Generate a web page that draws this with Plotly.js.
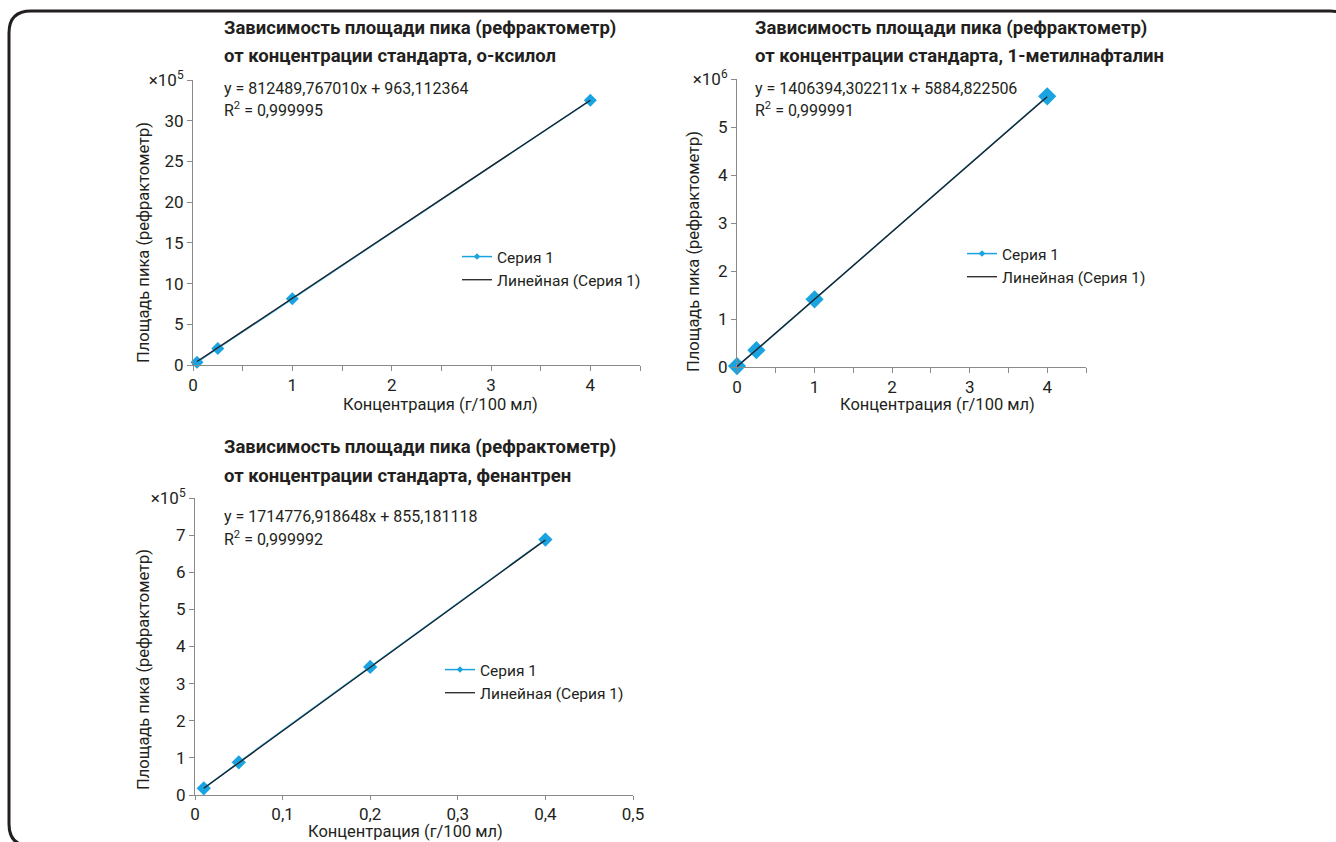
<!DOCTYPE html>
<html>
<head>
<meta charset="utf-8">
<script src="https://cdn.plot.ly/plotly-3.0.1.min.js"></script>
<style>
html,body{margin:0;padding:0;background:#fff;}
#chart{width:1336px;height:842px;}
</style>
</head>
<body>
<div id="chart"></div>
<script>
// ---- Data (peak areas in units of the axis multiplier) ----
const seriesName = "Серия 1";
const trendName = "Линейная (Серия 1)";
const yTitle = "Площадь пика (рефрактометр)";
const xTitle = "Концентрация (г/100 мл)";

// o-xylene (×10^5)
const xyleneConc = [0.04, 0.25, 1, 4];
const xylenePeak = [0.35, 2.04, 8.13, 32.5];
const xyleneTrendConc = [0.04, 4];
const xyleneTrendPeak = [0.42, 32.51];
const xyleneTitle = ["Зависимость площади пика (рефрактометр)", "от концентрации стандарта, о-ксилол"];
const xyleneEq = "y = 812489,767010x + 963,112364";
const xyleneR2 = "R<sup>2</sup> = 0,999995";
const xyleneXTicks = [0, 0.5, 1, 1.5, 2, 2.5, 3, 3.5, 4, 4.5];
const xyleneXLabels = ["0", "", "1", "", "2", "", "3", "", "4", ""];
const xyleneYTicks = [0, 5, 10, 15, 20, 25, 30, 35];
const xyleneYLabels = ["0", "5", "10", "15", "20", "25", "30", "×10<sup>5</sup>"];

// 1-methylnaphthalene (×10^6)
const mnConc = [0, 0.25, 1, 4];
const mnPeak = [0.02, 0.35, 1.41, 5.64];
const mnTrendConc = [0, 4];
const mnTrendPeak = [0.006, 5.63];
const mnTitle = ["Зависимость площади пика (рефрактометр)", "от концентрации стандарта, 1-метилнафталин"];
const mnEq = "y = 1406394,302211x + 5884,822506";
const mnR2 = "R<sup>2</sup> = 0,999991";
const mnXTicks = [0, 0.5, 1, 1.5, 2, 2.5, 3, 3.5, 4, 4.5];
const mnXLabels = ["0", "", "1", "", "2", "", "3", "", "4", ""];
const mnYTicks = [0, 1, 2, 3, 4, 5, 6];
const mnYLabels = ["0", "1", "2", "3", "4", "5", "×10<sup>6</sup>"];

// phenanthrene (×10^5)
const phenConc = [0.01, 0.05, 0.2, 0.4];
const phenPeak = [0.18, 0.88, 3.45, 6.88];
const phenTrendConc = [0.01, 0.4];
const phenTrendPeak = [0.18, 6.87];
const phenTitle = ["Зависимость площади пика (рефрактометр)", "от концентрации стандарта, фенантрен"];
const phenEq = "y = 1714776,918648x + 855,181118";
const phenR2 = "R<sup>2</sup> = 0,999992";
const phenXTicks = [0, 0.1, 0.2, 0.3, 0.4, 0.5];
const phenXLabels = ["0", "0,1", "0,2", "0,3", "0,4", "0,5"];
const phenYTicks = [0, 1, 2, 3, 4, 5, 6, 7, 8];
const phenYLabels = ["0", "1", "2", "3", "4", "5", "6", "7", "×10<sup>5</sup>"];

// ---- Styling ----
const W = 1336, H = 842;
const FONT = "Roboto, 'Liberation Sans', sans-serif";
const BLUE = "#19a3e0";
const DARK = "#231f20";
const AXIS = "#8a8a8a";
const px = v => v / W;
const py = v => 1 - v / H;

function seriesTraces(idx, conc, peak, tConc, tPeak, msize, legendId) {
  const xa = idx === 1 ? "x" : "x" + idx;
  const ya = idx === 1 ? "y" : "y" + idx;
  return [
    {x: [null], y: [null], xaxis: xa, yaxis: ya, mode: "lines+markers", name: seriesName,
     line: {color: BLUE, width: 1.5}, marker: {symbol: "diamond", size: 5, color: BLUE},
     legend: legendId, showlegend: true, hoverinfo: "skip"},
    {x: conc, y: peak, xaxis: xa, yaxis: ya, mode: "lines+markers", name: seriesName,
     line: {color: BLUE, width: 1.5}, marker: {symbol: "diamond", size: msize, color: BLUE},
     showlegend: false, legend: legendId, cliponaxis: false},
    {x: tConc, y: tPeak, xaxis: xa, yaxis: ya, mode: "lines", name: trendName,
     line: {color: DARK, width: 1.3}, legend: legendId, showlegend: true, cliponaxis: false}
  ];
}

const data = [
  ...seriesTraces(1, xyleneConc, xylenePeak, xyleneTrendConc, xyleneTrendPeak, 10, "legend"),
  ...seriesTraces(2, mnConc, mnPeak, mnTrendConc, mnTrendPeak, 14, "legend2"),
  ...seriesTraces(3, phenConc, phenPeak, phenTrendConc, phenTrendPeak, 11, "legend3")
];

function axis(domain, range, tickvals, ticktext, anchor, extra) {
  return Object.assign({
    domain: domain, range: range, tickvals: tickvals, ticktext: ticktext, tickmode: "array",
    showline: true, linecolor: AXIS, linewidth: 1, ticks: "outside", ticklen: 5, tickcolor: AXIS,
    showgrid: false, zeroline: false, anchor: anchor, fixedrange: true,
    tickfont: {family: FONT, size: 17, color: DARK}
  }, extra || {});
}

function legendBox(x, y) {
  return {x: px(x), y: py(y), xanchor: "left", yanchor: "top", bgcolor: "rgba(0,0,0,0)",
    font: {family: FONT, size: 15.5, color: DARK}, tracegroupgap: 0, itemwidth: 30};
}

const annotations = [];
function txt(x, y, text, opts) {
  annotations.push(Object.assign({xref: "paper", yref: "paper", x: px(x), y: py(y), text: text,
    showarrow: false, xanchor: "left", yanchor: "middle",
    font: {family: FONT, size: 16, color: DARK}}, opts || {}));
}
const titleFont = {family: FONT, size: 18.5, color: DARK, weight: "bold"};
const axTitleFont = {family: FONT, size: 16.5, color: DARK};

// Chart 1
txt(222, 28, "<b>" + xyleneTitle[0] + "</b>", {font: titleFont});
txt(222, 56, "<b>" + xyleneTitle[1] + "</b>", {font: titleFont});
txt(222, 88, xyleneEq);
txt(222, 110, xyleneR2);
txt(144, 243, yTitle, {xanchor: "center", textangle: -90, font: axTitleFont});
txt(440, 405, xTitle, {xanchor: "center", font: axTitleFont});
// Chart 2
txt(753, 28, "<b>" + mnTitle[0] + "</b>", {font: titleFont});
txt(753, 56, "<b>" + mnTitle[1] + "</b>", {font: titleFont});
txt(753, 88, mnEq);
txt(753, 110, mnR2);
txt(693, 252, yTitle, {xanchor: "center", textangle: -90, font: axTitleFont});
txt(938, 405, xTitle, {xanchor: "center", font: axTitleFont});
// Chart 3
txt(222, 447, "<b>" + phenTitle[0] + "</b>", {font: titleFont});
txt(222, 476, "<b>" + phenTitle[1] + "</b>", {font: titleFont});
txt(222, 516, phenEq);
txt(222, 538, phenR2);
txt(143, 670, yTitle, {xanchor: "center", textangle: -90, font: axTitleFont});
txt(405, 831, xTitle, {xanchor: "center", font: axTitleFont});

// rounded frame
const fx0 = 9, fy0 = 11, fx1 = 1352, fy1 = 846, r = 22;
const framePath = [
  "M", px(fx0), py(fy0 + r),
  "Q", px(fx0), py(fy0), px(fx0 + r), py(fy0),
  "L", px(fx1 - r), py(fy0),
  "Q", px(fx1), py(fy0), px(fx1), py(fy0 + r),
  "L", px(fx1), py(fy1 - r),
  "Q", px(fx1), py(fy1), px(fx1 - r), py(fy1),
  "L", px(fx0 + r), py(fy1),
  "Q", px(fx0), py(fy1), px(fx0), py(fy1 - r),
  "Z"].join(" ");

const layout = {
  width: W, height: H,
  margin: {l: 0, r: 0, t: 0, b: 0, pad: 0},
  paper_bgcolor: "#ffffff", plot_bgcolor: "rgba(0,0,0,0)",
  font: {family: FONT, size: 16, color: DARK},
  xaxis: axis([px(193), px(640)], [0, 4.5], xyleneXTicks, xyleneXLabels, "y"),
  yaxis: axis([py(365), py(80)], [0, 35], xyleneYTicks, xyleneYLabels, "x"),
  xaxis2: axis([px(737), px(1086)], [0, 4.5], mnXTicks, mnXLabels, "y2"),
  yaxis2: axis([py(367), py(79)], [0, 6], mnYTicks, mnYLabels, "x2"),
  xaxis3: axis([px(195), px(633)], [0, 0.5], phenXTicks, phenXLabels, "y3", {ticklen: 4}),
  yaxis3: axis([py(795), py(498)], [0, 8], phenYTicks, phenYLabels, "x3"),
  legend: legendBox(457, 240),
  legend2: legendBox(962, 237),
  legend3: legendBox(440, 653),
  annotations: annotations,
  shapes: [{type: "path", xref: "paper", yref: "paper", path: framePath,
    line: {color: DARK, width: 3}, fillcolor: "rgba(0,0,0,0)", layer: "above"}],
  showlegend: true
};

Plotly.newPlot("chart", data, layout, {staticPlot: true, displayModeBar: false});
</script>
</body>
</html>
